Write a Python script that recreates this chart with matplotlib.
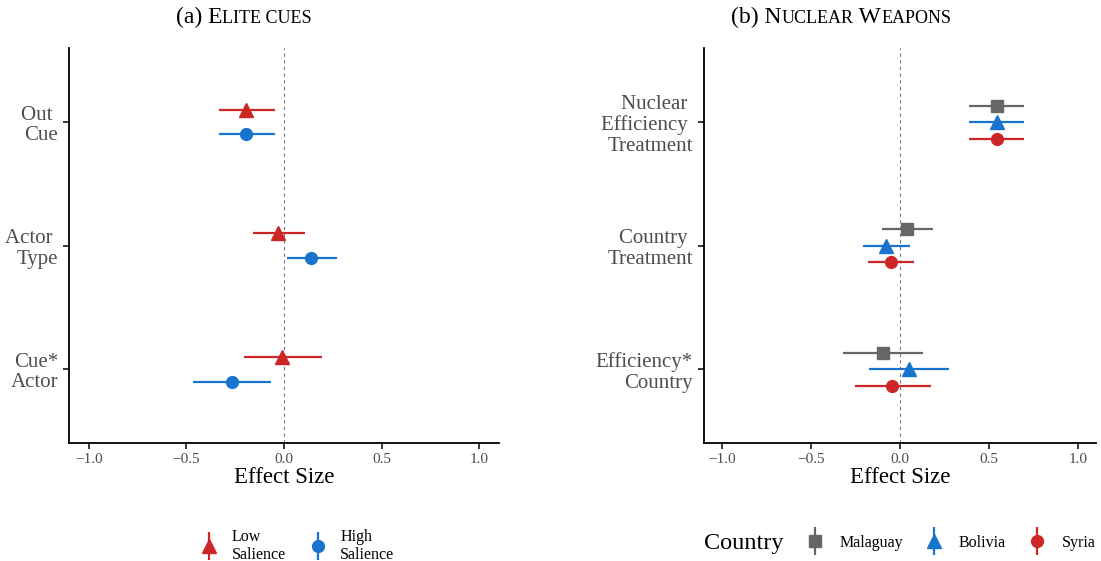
import matplotlib
matplotlib.use("Agg")
import matplotlib.pyplot as plt
from matplotlib.lines import Line2D
from matplotlib.legend_handler import HandlerTuple

plt.rcParams['font.family'] = ['Liberation Serif', 'DejaVu Serif']

# panel (a): elite cues
cue_terms = ["Out \nCue", "Actor \nType", "Cue*\nActor"]
low_est = [-0.195, -0.03, -0.01]
low_lo = [-0.335, -0.16, -0.205]
low_hi = [-0.045, 0.105, 0.195]
high_est = [-0.195, 0.14, -0.265]
high_lo = [-0.335, 0.013, -0.465]
high_hi = [-0.045, 0.27, -0.065]

# panel (b): nuclear weapons
nuc_terms = ["Nuclear \nEfficiency \nTreatment", "Country \nTreatment", "Efficiency*\nCountry"]
countries = ["Malaguay", "Bolivia", "Syria"]
nuc_est = {"Malaguay": [0.544, 0.042, -0.097],
           "Bolivia": [0.544, -0.076, 0.048],
           "Syria": [0.544, -0.05, -0.043]}
nuc_lo = {"Malaguay": [0.388, -0.10, -0.318],
          "Bolivia": [0.388, -0.208, -0.175],
          "Syria": [0.388, -0.182, -0.255]}
nuc_hi = {"Malaguay": [0.696, 0.184, 0.128],
          "Bolivia": [0.696, 0.057, 0.273],
          "Syria": [0.696, 0.081, 0.173]}

RED = '#CD2626'
BLUE = '#1874CD'
GRAY = '#666666'
W, H = 1101, 561

fig = plt.figure(figsize=(W / 100, H / 100), dpi=100)
ax1 = fig.add_axes([69.3 / W, 1 - 443.3 / H, 429.5 / W, 395.3 / H])
ax2 = fig.add_axes([704 / W, 1 - 443.3 / H, 392 / W, 395.3 / H])


def pointrange(ax, y, est, lo, hi, color, marker, ms):
    for yi, e, l, h in zip(y, est, lo, hi):
        ax.plot([l, h], [yi, yi], color=color, lw=1.6, solid_capstyle='butt', zorder=2)
    ax.plot(est, y, linestyle='none', marker=marker, color=color, ms=ms, zorder=3)


def style_axis(ax, labels):
    ax.axvline(0, color='#777777', lw=0.8, ls=(0, (3, 3)), zorder=1)
    ax.set_xlim(-1.1, 1.1)
    ax.set_ylim(3.6, 0.4)
    ax.set_xticks([-1.0, -0.5, 0.0, 0.5, 1.0])
    ax.set_xticklabels(['\u22121.0', '\u22120.5', '0.0', '0.5', '1.0'])
    ax.set_yticks([1, 2, 3])
    ax.set_yticklabels(labels, linespacing=1.1)
    for s in ['top', 'right']:
        ax.spines[s].set_visible(False)
    for s in ['left', 'bottom']:
        ax.spines[s].set_linewidth(1.3)
    ax.tick_params(axis='x', labelsize=11, colors='#4D4D4D', length=4, width=1.1, pad=3)
    ax.tick_params(axis='y', labelsize=15, colors='#4D4D4D', length=4, width=1.1, pad=4)
    ax.tick_params(axis='both', color='black')
    ax.set_xlabel('Effect Size', fontsize=16.5, labelpad=1)


pos = [1, 2, 3]
pointrange(ax1, [p - 0.1 for p in pos], low_est, low_lo, low_hi, RED, '^', 9.5)
pointrange(ax1, [p + 0.1 for p in pos], high_est, high_lo, high_hi, BLUE, 'o', 8.5)
style_axis(ax1, cue_terms)

styles = {"Malaguay": (GRAY, 's', 8.5, -0.133),
          "Bolivia": (BLUE, '^', 9.5, 0.0),
          "Syria": (RED, 'o', 8.5, 0.133)}
for c in countries:
    col, mk, ms, off = styles[c]
    pointrange(ax2, [p + off for p in pos], nuc_est[c], nuc_lo[c], nuc_hi[c], col, mk, ms)
style_axis(ax2, nuc_terms)


def key(color, marker, ms):
    return (Line2D([], [], color=color, marker='|', ms=20, mew=1.6, linestyle='none'),
            Line2D([], [], color=color, marker=marker, ms=ms, linestyle='none'))


leg1 = fig.legend([key(RED, '^', 9.5), key(BLUE, 'o', 8.5)],
                  ['Low\nSalience', 'High\nSalience'],
                  handler_map={tuple: HandlerTuple(ndivide=1)},
                  loc='center', bbox_to_anchor=(297 / W, 1 - 546 / H), ncol=2,
                  frameon=False, fontsize=11.5, handlelength=1.2, handletextpad=0.8,
                  columnspacing=1.4, borderpad=0, labelspacing=0)

leg2 = fig.legend([key(*styles[c][:3]) for c in countries], countries,
                  handler_map={tuple: HandlerTuple(ndivide=1)},
                  loc='center left', bbox_to_anchor=(797 / W, 1 - 543 / H), ncol=3,
                  frameon=False, fontsize=11.5, handlelength=1.2, handletextpad=0.95,
                  columnspacing=1.35, borderpad=0)
fig.text(704 / W, 1 - 543 / H, 'Country', fontsize=17.5, va='center', ha='left')


def smallcaps(xc, y, parts):
    fig.canvas.draw()
    r = fig.canvas.get_renderer()
    texts = [fig.text(0, y, s, fontsize=fs, va='baseline') for s, fs in parts]
    widths = [t.get_window_extent(r).width for t in texts]
    x = xc - sum(widths) / 2
    for t, w in zip(texts, widths):
        t.set_x(x / W)
        x += w


smallcaps(244, 1 - 23 / H, [("(a) E", 17), ("LITE CUES", 13)])
smallcaps(841, 1 - 23 / H, [("(b) N", 17), ("UCLEAR", 13), (" W", 17), ("EAPONS", 13)])

fig.savefig('out.png', dpi=100)
